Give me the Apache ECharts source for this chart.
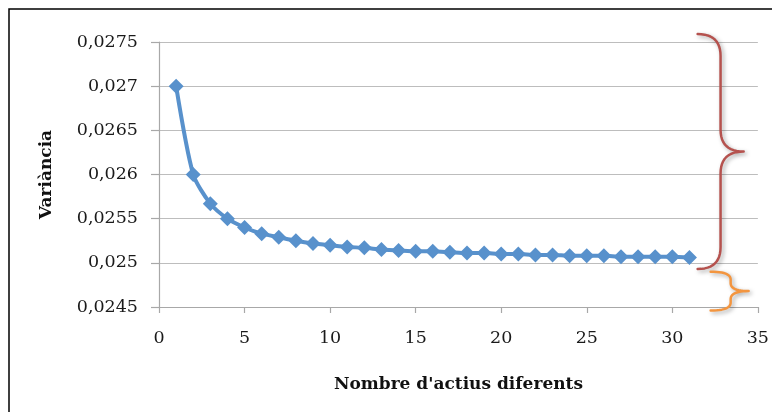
<!DOCTYPE html>
<html>
<head>
<meta charset="utf-8">
<script src="https://cdn.jsdelivr.net/npm/echarts@6/dist/echarts.min.js"></script>
<style>
  html, body { margin: 0; padding: 0; background: #fff; }
  #chart { width: 772px; height: 412px; }
</style>
</head>
<body>
<div id="chart"></div>
<script>
// Number of distinct assets in the portfolio
const nAssets = [1, 2, 3, 4, 5, 6, 7, 8, 9, 10, 11, 12, 13, 14, 15, 16,
                 17, 18, 19, 20, 21, 22, 23, 24, 25, 26, 27, 28, 29, 30, 31];
// Portfolio variance for each number of assets
const variance = [0.02700, 0.02600, 0.02567, 0.02550, 0.02540, 0.02533, 0.02529,
                  0.02525, 0.02522, 0.02520, 0.02518, 0.02517, 0.02515, 0.02514,
                  0.02513, 0.02513, 0.02512, 0.02511, 0.02511, 0.02510, 0.02510,
                  0.02509, 0.02509, 0.02508, 0.02508, 0.02508, 0.02507, 0.02507,
                  0.02507, 0.02507, 0.02506];

// Axis ranges and tick steps
const xRange = [0, 35, 5];
const yRange = [0.0245, 0.0275, 0.0005];

// Curly braces beside the curve, in data units:
// [x of the ends, x of the spine, x of the tip, lower value, upper value]
const braceDiversifiable = [31.48, 32.82, 34.17, 0.02493, 0.02759];
const braceSystematic    = [32.24, 33.41, 34.46, 0.02446, 0.02490];

const serifFont = "'DejaVu Serif', 'Liberation Serif', serif";

const chart = echarts.init(document.getElementById('chart'), null, { renderer: 'canvas' });

const fmtComma = v => parseFloat(v.toFixed(5)).toString().replace('.', ',');

chart.setOption({
  animation: false,
  backgroundColor: '#ffffff',
  grid: { left: 159, right: 14, top: 42, bottom: 105, containLabel: false },
  xAxis: {
    type: 'value',
    min: xRange[0], max: xRange[1], interval: xRange[2],
    name: "Nombre d'actius diferents",
    nameLocation: 'middle',
    nameGap: 69,
    nameTextStyle: { fontFamily: serifFont, fontWeight: 'bold', fontSize: 17, color: '#111' },
    axisLine: { show: true, onZero: false, lineStyle: { color: '#a8a8a8', width: 1.2 } },
    axisTick: { show: true, inside: false, length: 6, lineStyle: { color: '#a8a8a8', width: 1.2 } },
    axisLabel: { margin: 22, fontFamily: serifFont, fontSize: 17.5, color: '#1a1a1a' },
    splitLine: { show: false }
  },
  yAxis: {
    type: 'value',
    min: yRange[0], max: yRange[1], interval: yRange[2],
    name: 'Variància',
    nameLocation: 'middle',
    nameGap: 104,
    nameRotate: 90,
    nameTextStyle: { fontFamily: serifFont, fontWeight: 'bold', fontSize: 17, color: '#111' },
    axisLine: { show: true, lineStyle: { color: '#a8a8a8', width: 1.2 } },
    axisTick: { show: true, inside: false, length: 8, lineStyle: { color: '#a8a8a8', width: 1.2 } },
    axisLabel: { margin: 21, fontFamily: serifFont, fontSize: 17.5, color: '#1a1a1a', formatter: fmtComma },
    splitLine: { show: true, lineStyle: { color: '#bdbdbd', width: 1.2 } }
  },
  series: [{
    type: 'line',
    data: nAssets.map((x, i) => [x, variance[i]]),
    smooth: 0.25,
    symbol: 'diamond',
    symbolSize: [15, 15],
    lineStyle: { color: '#5891cc', width: 4 },
    itemStyle: { color: '#5891cc' },
    clip: false,
    z: 3
  }]
});

// Samples a quadratic Bezier segment into points
function quad(p0, c, p1, steps) {
  const out = [];
  for (let i = 1; i <= steps; i++) {
    const t = i / steps, u = 1 - t;
    out.push([u * u * p0[0] + 2 * u * t * c[0] + t * t * p1[0],
              u * u * p0[1] + 2 * u * t * c[1] + t * t * p1[1]]);
  }
  return out;
}

// Builds the outline of a right-facing curly brace as a list of pixel points
function bracePoints(spec, r) {
  const [xEnd, xSpine, xTip, vLow, vHigh] = spec;
  const pTop = chart.convertToPixel({ gridIndex: 0 }, [xEnd, vHigh]);
  const pBot = chart.convertToPixel({ gridIndex: 0 }, [xEnd, vLow]);
  const xs = chart.convertToPixel({ gridIndex: 0 }, [xSpine, vLow])[0];
  const xt = chart.convertToPixel({ gridIndex: 0 }, [xTip, vLow])[0];
  const x0 = pTop[0], yT = pTop[1], yB = pBot[1];
  const yM = (yT + yB) / 2;
  let pts = [[x0, yT]];
  pts = pts.concat(quad([x0, yT], [xs, yT], [xs, yT + r], 12));
  pts.push([xs, yM - r]);
  pts = pts.concat(quad([xs, yM - r], [xs, yM], [xt, yM], 12));
  pts = pts.concat(quad([xt, yM], [xs, yM], [xs, yM + r], 12));
  pts.push([xs, yB - r]);
  pts = pts.concat(quad([xs, yB - r], [xs, yB], [x0, yB], 12));
  return pts;
}

const braceShadow = { shadowBlur: 4, shadowColor: 'rgba(0,0,0,0.35)', shadowOffsetX: 2, shadowOffsetY: 2 };

chart.setOption({
  graphic: [
    {
      type: 'rect',
      shape: { x: 9, y: 9, width: 900, height: 600 },
      style: { fill: null, stroke: '#000', lineWidth: 1.5 },
      silent: true
    },
    {
      type: 'polyline',
      shape: { points: bracePoints(braceDiversifiable, 22) },
      style: Object.assign({ fill: null, stroke: '#b5524e', lineWidth: 2.5, lineCap: 'round', lineJoin: 'round' }, braceShadow),
      z: 10
    },
    {
      type: 'polyline',
      shape: { points: bracePoints(braceSystematic, 8) },
      style: Object.assign({ fill: null, stroke: '#f3953f', lineWidth: 2.5, lineCap: 'round', lineJoin: 'round' }, braceShadow),
      z: 10
    }
  ]
});
</script>
</body>
</html>
